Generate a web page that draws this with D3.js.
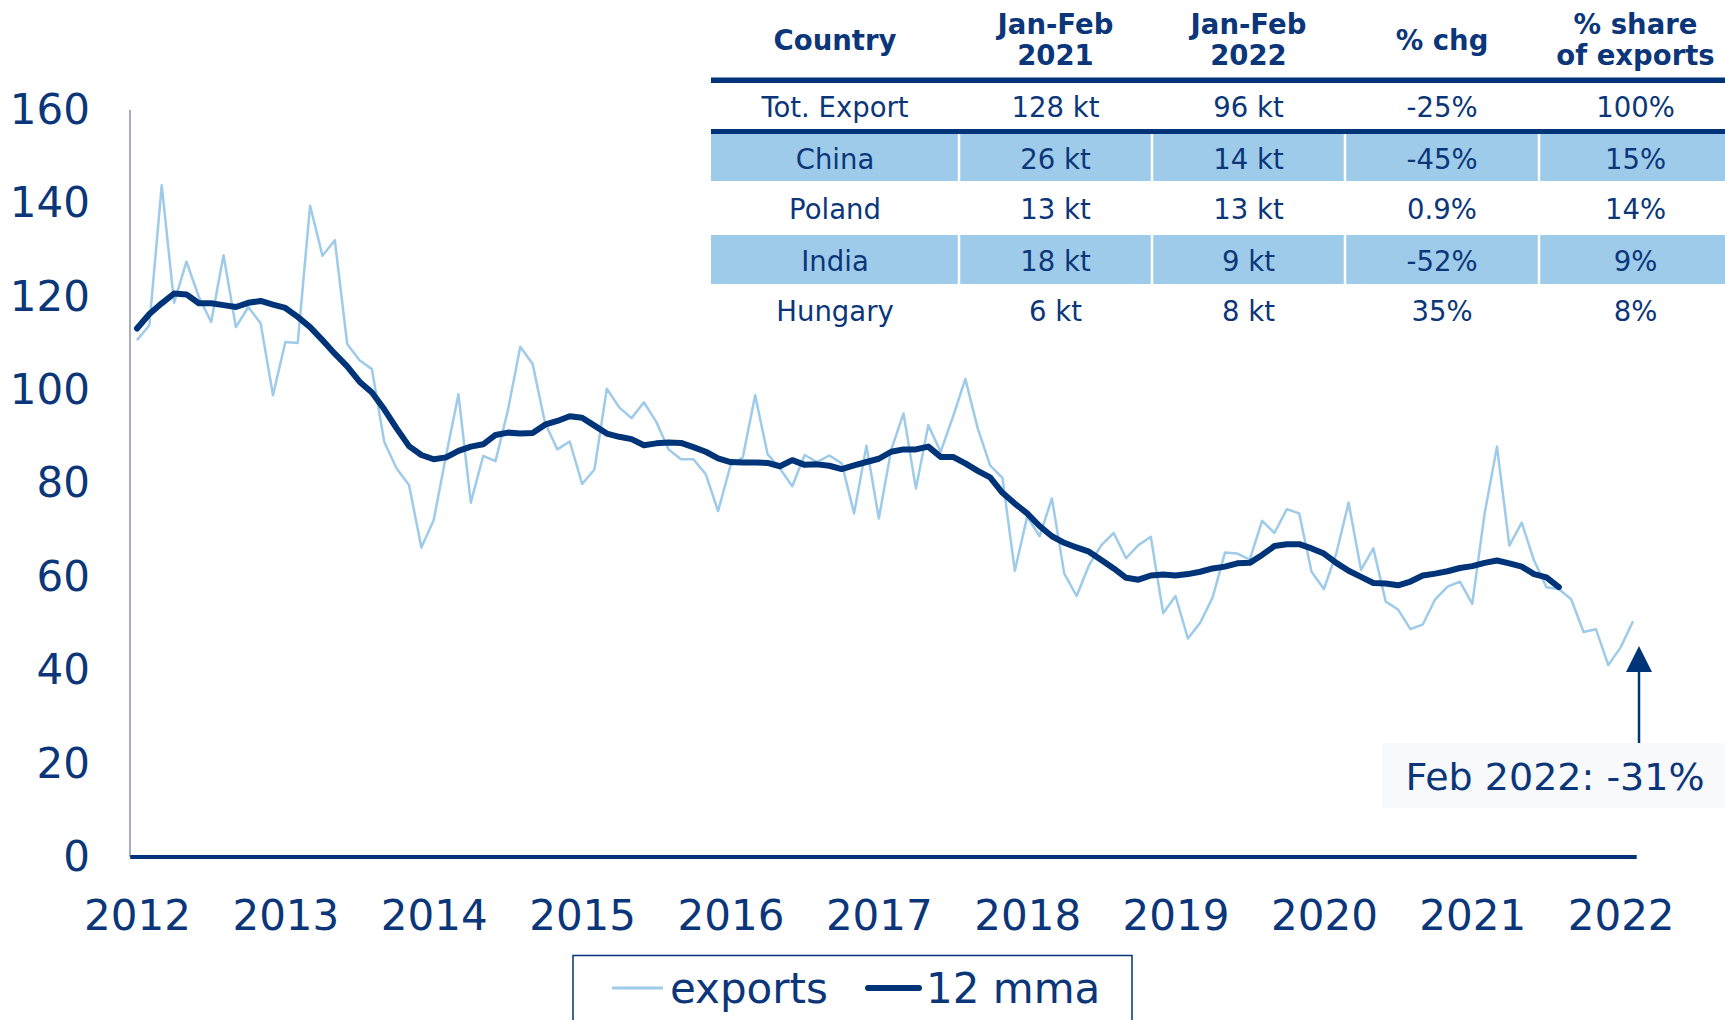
<!doctype html>
<html lang="en">
<head>
<meta charset="utf-8">
<title>Exports with 12 mma</title>
<script src="https://cdn.jsdelivr.net/npm/d3@7"></script>
<style>
  body { margin: 0; background: #fff; }
  svg { display: block; font-family: Verdana, "DejaVu Sans", sans-serif; }
</style>
</head>
<body>
<svg width="1725" height="1020"></svg>
<script>

// monthly exports, Jan 2012 .. Feb 2022 (kt)
var exports = [
  110.7, 113.9, 143.9, 118.7, 127.5, 120.0, 114.6, 128.9, 113.5, 117.8, 114.3, 98.9,
  110.3, 110.1, 139.5, 128.8, 132.1, 109.9, 106.4, 104.5, 88.9, 83.2, 79.7, 66.3,
  72.2, 86.0, 99.1, 75.9, 85.9, 84.8, 95.7, 109.3, 105.6, 93.0, 87.3, 89.0,
  79.9, 83.0, 100.3, 96.3, 94.0, 97.4, 93.2, 87.3, 85.2, 85.2, 82.0, 74.1,
  83.8, 85.6, 98.9, 86.3, 83.2, 79.4, 86.1, 84.6, 86.0, 84.3, 73.6, 88.1,
  72.5, 87.2, 95.0, 78.9, 92.5, 86.8, 94.3, 102.4, 91.8, 83.9, 81.2, 61.3,
  72.9, 68.7, 76.8, 60.7, 55.9, 62.5, 66.8, 69.4, 64.0, 66.8, 68.6, 52.2,
  55.9, 46.8, 50.2, 55.6, 65.2, 65.0, 63.7, 72.0, 69.4, 74.5, 73.6, 61.1,
  57.4, 65.0, 75.9, 61.5, 66.1, 54.7, 53.0, 48.8, 49.8, 55.2, 57.9, 59.0,
  54.2, 73.6, 87.9, 66.7, 71.6, 63.5, 57.8, 57.4, 55.2, 48.2, 48.8, 41.1,
  44.9, 50.5
];

// 12 month moving average, Jan 2012 .. Aug 2021
var mma = [
  113.2, 116.3, 118.6, 120.7, 120.5, 118.6, 118.6, 118.2, 117.8, 118.7, 119.1, 118.3,
  117.6, 115.7, 113.5, 110.7, 107.8, 105.1, 101.8, 99.5, 95.9, 91.8, 88.0, 86.1,
  85.2, 85.6, 87.0, 87.9, 88.4, 90.4, 90.9, 90.7, 90.8, 92.6, 93.4, 94.4,
  94.1, 92.4, 90.7, 90.0, 89.5, 88.2, 88.6, 88.8, 88.7, 87.8, 86.8, 85.4,
  84.6, 84.5, 84.5, 84.4, 83.7, 85.0, 84.0, 84.1, 83.8, 83.1, 83.9, 84.6,
  85.3, 86.8, 87.3, 87.3, 87.9, 85.7, 85.7, 84.3, 82.7, 81.3, 78.0, 75.7,
  73.6, 70.9, 68.7, 67.3, 66.3, 65.4, 63.6, 61.8, 59.8, 59.4, 60.3, 60.5,
  60.3, 60.6, 61.1, 61.8, 62.2, 62.9, 63.0, 64.7, 66.6, 67.0, 67.0, 66.1,
  65.0, 63.0, 61.3, 60.0, 58.7, 58.6, 58.2, 59.0, 60.3, 60.7, 61.2, 61.9,
  62.3, 63.0, 63.5, 62.9, 62.2, 60.6, 59.9, 57.8
];

var yearLabels = ["2012", "2013", "2014", "2015", "2016", "2017", "2018", "2019", "2020", "2021", "2022"];
var yTicks = [0, 20, 40, 60, 80, 100, 120, 140, 160];
var seriesNames = ["exports", "12 mma"];
var noteText = "Feb 2022: -31%";

// table
var tableHead = [["Country"], ["Jan-Feb", "2021"], ["Jan-Feb", "2022"], ["% chg"], ["% share", "of exports"]];
var countries = ["Tot. Export", "China", "Poland", "India", "Hungary"];
var janFeb2021 = ["128 kt", "26 kt", "13 kt", "18 kt", "6 kt"];
var janFeb2022 = ["96 kt", "14 kt", "13 kt", "9 kt", "8 kt"];
var pctChg = ["-25%", "-45%", "0.9%", "-52%", "35%"];
var pctShare = ["100%", "15%", "14%", "9%", "8%"];

var navy = "#0b3679";
var dark = "#003479";
var light = "#9ecbea";
var fontFam = 'Verdana, "DejaVu Sans", sans-serif';

var svg = d3.select("svg");

var x = d3.scaleLinear().domain([0, exports.length - 1]).range([137, 1633]);
var y = d3.scaleLinear().domain([0, 160]).range([857, 110]);

// y axis
var yAxis = svg.append("g")
    .attr("transform", "translate(130,0)")
    .call(d3.axisLeft(y).tickValues(yTicks).tickSize(0).tickPadding(40));
yAxis.select(".domain").remove();
yAxis.attr("font-family", fontFam).attr("font-size", 42);
yAxis.selectAll("text").attr("fill", navy);

svg.append("line")
    .attr("x1", 130).attr("x2", 130)
    .attr("y1", y(160)).attr("y2", y(0))
    .attr("stroke", "#8e91aa").attr("stroke-width", 1.5);

// x axis
var yearIdx = yearLabels.map(function(d, i) { return i * 12; });
var xAxis = svg.append("g")
    .attr("transform", "translate(0," + y(0) + ")")
    .call(d3.axisBottom(x).tickValues(yearIdx)
        .tickFormat(function(d, i) { return yearLabels[i]; })
        .tickSize(0).tickPadding(43));
xAxis.select(".domain").remove();
xAxis.attr("font-family", fontFam).attr("font-size", 42);
xAxis.selectAll("text").attr("fill", navy);

svg.append("line")
    .attr("x1", x(-0.55)).attr("x2", x(121.3))
    .attr("y1", y(0)).attr("y2", y(0))
    .attr("stroke", dark).attr("stroke-width", 4);

// lines
var line = d3.line()
    .x(function(d, i) { return x(i); })
    .y(function(d) { return y(d); });

svg.append("path").datum(exports)
    .attr("d", line)
    .attr("fill", "none")
    .attr("stroke", light)
    .attr("stroke-width", 2.5)
    .attr("stroke-linejoin", "round");

svg.append("path").datum(mma)
    .attr("d", line)
    .attr("fill", "none")
    .attr("stroke", dark)
    .attr("stroke-width", 6)
    .attr("stroke-linejoin", "round")
    .attr("stroke-linecap", "round");

// annotation
var ax = x(exports.length - 1) + 6;
svg.append("line")
    .attr("x1", ax).attr("x2", ax)
    .attr("y1", 743).attr("y2", 668)
    .attr("stroke", dark).attr("stroke-width", 2.5);
svg.append("path")
    .attr("d", "M" + ax + ",646L" + (ax - 13) + ",672L" + (ax + 13) + ",672Z")
    .attr("fill", dark);
svg.append("rect")
    .attr("x", 1382).attr("y", 743).attr("width", 343).attr("height", 65)
    .attr("fill", "#f8f9fb");
svg.append("text")
    .attr("x", 1555).attr("y", 790)
    .attr("text-anchor", "middle")
    .attr("font-size", 38)
    .attr("fill", navy)
    .text(noteText);

// legend
svg.append("rect")
    .attr("x", 573).attr("y", 955.5).attr("width", 559).attr("height", 80)
    .attr("fill", "#fff").attr("stroke", dark).attr("stroke-width", 1.5);
var legX = [612, 868];
seriesNames.forEach(function(name, i) {
    svg.append("line")
        .attr("x1", legX[i]).attr("x2", legX[i] + 51)
        .attr("y1", 988).attr("y2", 988)
        .attr("stroke", i === 0 ? light : dark)
        .attr("stroke-width", i === 0 ? 3 : 6)
        .attr("stroke-linecap", i === 0 ? "butt" : "round");
    svg.append("text")
        .attr("x", legX[i] + 58).attr("y", 1003)
        .attr("font-size", 42)
        .attr("fill", navy)
        .text(name);
});

// table
var colEdges = [711, 959, 1152, 1345, 1539, 1732];
var cols = [countries, janFeb2021, janFeb2022, pctChg, pctShare];
var rowTop = [83, 134, 181, 235, 284];
var rowBot = [129, 181, 235, 284, 336];
var tbl = svg.append("g").attr("class", "table");

tbl.append("rect").attr("x", 711).attr("y", 77.5).attr("width", 1014).attr("height", 5.5).attr("fill", dark);
tbl.append("rect").attr("x", 711).attr("y", 129).attr("width", 1014).attr("height", 5).attr("fill", dark);

[1, 3].forEach(function(r) {
    for (var c = 0; c < 5; c++) {
        var x0 = colEdges[c] + (c === 0 ? 0 : 1.25);
        var x1 = colEdges[c + 1] - 1.25;
        tbl.append("rect")
            .attr("x", x0).attr("y", rowTop[r])
            .attr("width", x1 - x0).attr("height", rowBot[r] - rowTop[r])
            .attr("fill", light);
    }
});

tableHead.forEach(function(lines, c) {
    var cx = (colEdges[c] + colEdges[c + 1]) / 2;
    var t = tbl.append("text")
        .attr("text-anchor", "middle")
        .attr("font-weight", "bold")
        .attr("font-size", 27.5)
        .attr("fill", navy);
    if (lines.length === 1) {
        t.append("tspan").attr("x", cx).attr("y", 50).text(lines[0]);
    } else {
        t.append("tspan").attr("x", cx).attr("y", 34).text(lines[0]);
        t.append("tspan").attr("x", cx).attr("y", 65).text(lines[1]);
    }
});

cols.forEach(function(vals, c) {
    var cx = (colEdges[c] + colEdges[c + 1]) / 2;
    vals.forEach(function(v, r) {
        tbl.append("text")
            .attr("x", cx)
            .attr("y", (rowTop[r] + rowBot[r]) / 2 + 11)
            .attr("text-anchor", "middle")
            .attr("font-size", 27.5)
            .attr("fill", navy)
            .text(v);
    });
});

</script>
</body>
</html>
